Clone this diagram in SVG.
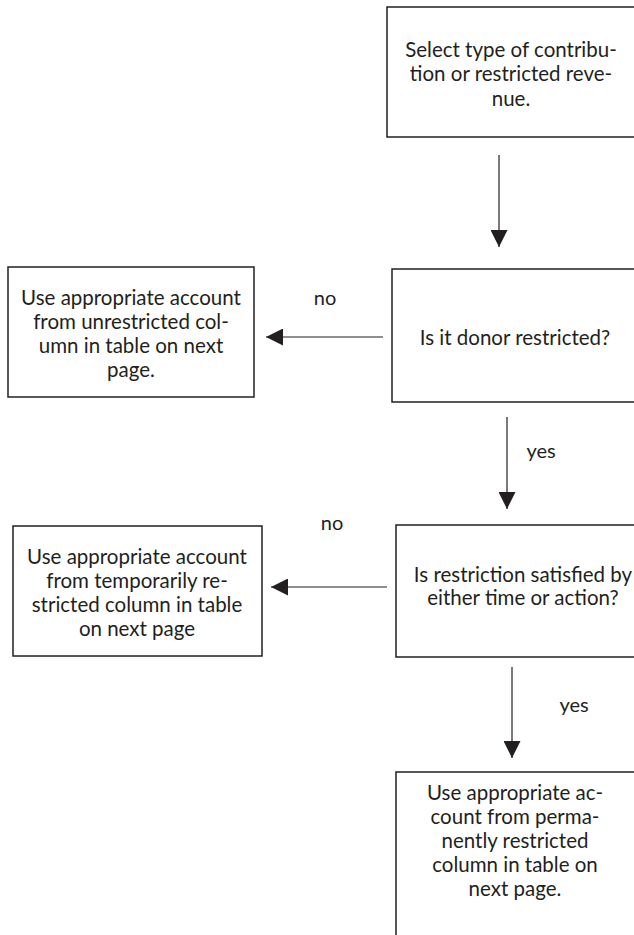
<svg xmlns="http://www.w3.org/2000/svg" width="634" height="935" viewBox="0 0 634 935">
<style>
.box{fill:#fff;stroke:#231f20;stroke-width:1.5}
.t{font-family:Lato,"Open Sans","DejaVu Sans",sans-serif;font-size:20.5px;fill:#231f20;text-anchor:middle}
.lbl{font-family:Lato,"Open Sans","DejaVu Sans",sans-serif;font-size:20px;fill:#231f20;text-anchor:middle}
.c{stroke:#231f20;stroke-width:1.2;fill:none;marker-end:url(#ah)}
</style>
<defs>
<marker id="ah" markerUnits="userSpaceOnUse" markerWidth="18" markerHeight="17" refX="17" refY="8.5" orient="auto">
<path d="M0,0 L17,8.5 L0,17 Z" fill="#231f20"/>
</marker>
</defs>
<rect width="634" height="935" fill="#fff"/>
<g id="n1">
<rect class="box" x="387" y="7" width="250" height="130"/>
<text class="t" x="511" y="57">Select type of contribu-</text>
<text class="t" x="511" y="81">tion or restricted reve-</text>
<text class="t" x="511" y="106">nue.</text>
</g>
<g id="n2">
<rect class="box" x="392" y="269" width="250" height="133"/>
<text class="t" x="515" y="345">Is it donor restricted?</text>
</g>
<g id="n3">
<rect class="box" x="8" y="267" width="246" height="130"/>
<text class="t" x="131" y="305">Use appropriate account</text>
<text class="t" x="131" y="329">from unrestricted col-</text>
<text class="t" x="131" y="353">umn in table on next</text>
<text class="t" x="131" y="377">page.</text>
</g>
<g id="n4">
<rect class="box" x="396" y="525" width="250" height="132"/>
<text class="t" x="523" y="582">Is restriction satisfied by</text>
<text class="t" x="523" y="605">either time or action?</text>
</g>
<g id="n5">
<rect class="box" x="13" y="526" width="249" height="130"/>
<text class="t" x="137" y="564">Use appropriate account</text>
<text class="t" x="137" y="588">from temporarily re-</text>
<text class="t" x="137" y="612">stricted column in table</text>
<text class="t" x="137" y="636">on next page</text>
</g>
<g id="n6">
<rect class="box" x="396" y="772" width="250" height="180"/>
<text class="t" x="515" y="800">Use appropriate ac-</text>
<text class="t" x="515" y="824">count from perma-</text>
<text class="t" x="515" y="848">nently restricted</text>
<text class="t" x="515" y="872">column in table on</text>
<text class="t" x="515" y="896">next page.</text>
</g>
<g id="connectors">
<line class="c" x1="499" y1="155" x2="499" y2="247"/>
<line class="c" x1="383" y1="337" x2="266" y2="337"/>
<line class="c" x1="507" y1="417" x2="507" y2="509"/>
<line class="c" x1="387" y1="587" x2="271" y2="587"/>
<line class="c" x1="512" y1="667" x2="512" y2="758"/>
<text class="lbl" x="325" y="305">no</text>
<text class="lbl" x="541" y="458">yes</text>
<text class="lbl" x="332" y="530">no</text>
<text class="lbl" x="574" y="712">yes</text>
</g>
</svg>
